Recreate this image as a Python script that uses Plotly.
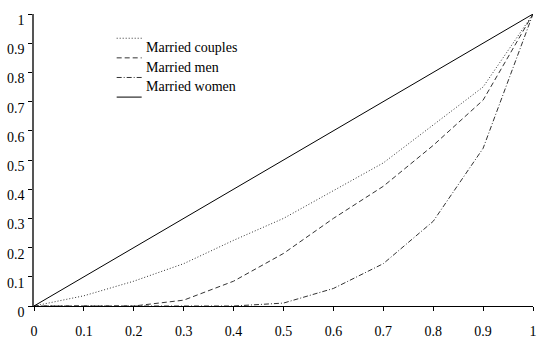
import plotly.graph_objects as go

x_vals = [0, 0.1, 0.2, 0.3, 0.4, 0.5, 0.6, 0.7, 0.8, 0.9, 1]
married_couples = [0, 0.035, 0.085, 0.145, 0.225, 0.30, 0.395, 0.49, 0.62, 0.75, 1]
married_men = [0, 0, 0, 0.02, 0.085, 0.18, 0.30, 0.41, 0.55, 0.705, 1]
married_women = [0, 0, 0, 0, 0, 0.01, 0.06, 0.145, 0.29, 0.54, 1]
equality = [0, 0.1, 0.2, 0.3, 0.4, 0.5, 0.6, 0.7, 0.8, 0.9, 1]

series_names = ["Married couples", "Married men", "Married women", ""]
series_values = [married_couples, married_men, married_women, equality]
series_dash = ["1px,2px", "5px,3px", "5px,2px,1px,2px", "solid"]
series_color = ["#333333", "#333333", "#333333", "#000000"]

tick_vals = [0, 0.1, 0.2, 0.3, 0.4, 0.5, 0.6, 0.7, 0.8, 0.9, 1]
tick_text = ["0", "0.1", "0.2", "0.3", "0.4", "0.5", "0.6", "0.7", "0.8", "0.9", "1"]

FONT = "Liberation Serif, Times New Roman, serif"

fig = go.Figure()
for name, vals, dash, col in zip(series_names, series_values, series_dash, series_color):
    fig.add_trace(go.Scatter(x=x_vals, y=vals, mode="lines", name=name,
                             line=dict(color=col, width=1, dash=dash),
                             showlegend=False, hoverinfo="skip", cliponaxis=False))

# manual legend replicating the offset glyph layout of the original
leg_x0, leg_x1, leg_tx = 0.1657, 0.2158, 0.2198
glyph_y0, text_y0, step = 0.917, 0.885, 0.0672
for i, (name, dash, col) in enumerate(zip(series_names, series_dash, series_color)):
    gy = glyph_y0 - i * step
    fig.add_shape(type="line", xref="paper", yref="paper", x0=leg_x0, x1=leg_x1,
                  y0=gy, y1=gy, line=dict(color=col, width=1, dash=dash))
    if name:
        fig.add_annotation(xref="paper", yref="paper", x=leg_tx, y=text_y0 - i * step,
                           text=name, showarrow=False, xanchor="left", yanchor="middle",
                           font=dict(family=FONT, size=14, color="#000"))

fig.update_layout(
    width=539, height=338,
    margin=dict(l=34, r=6, t=14, b=32, autoexpand=False),
    paper_bgcolor="white", plot_bgcolor="white",
    font=dict(family=FONT, size=14, color="#000"),
    showlegend=False,
)
fig.update_xaxes(range=[0, 1], tickvals=tick_vals, ticktext=tick_text,
                 tickfont=dict(family=FONT, size=14, color="#000"),
                 showgrid=False, zeroline=False, showline=True, linecolor="#000",
                 linewidth=1, ticks="outside", ticklen=4, tickcolor="#000",
                 ticklabelstandoff=8, automargin=False)
fig.update_yaxes(range=[0, 1], tickvals=tick_vals, ticktext=tick_text,
                 tickfont=dict(family=FONT, size=14, color="#000"),
                 showgrid=False, zeroline=False, showline=True, linecolor="#555",
                 linewidth=1.5, ticks="outside", ticklen=4, tickcolor="#000",
                 ticklabelshift=6, ticklabelstandoff=1, automargin=False)

fig.write_html("out.html", config={"displayModeBar": False},
               post_script="document.body.style.margin='0';document.body.style.overflow='hidden';")
